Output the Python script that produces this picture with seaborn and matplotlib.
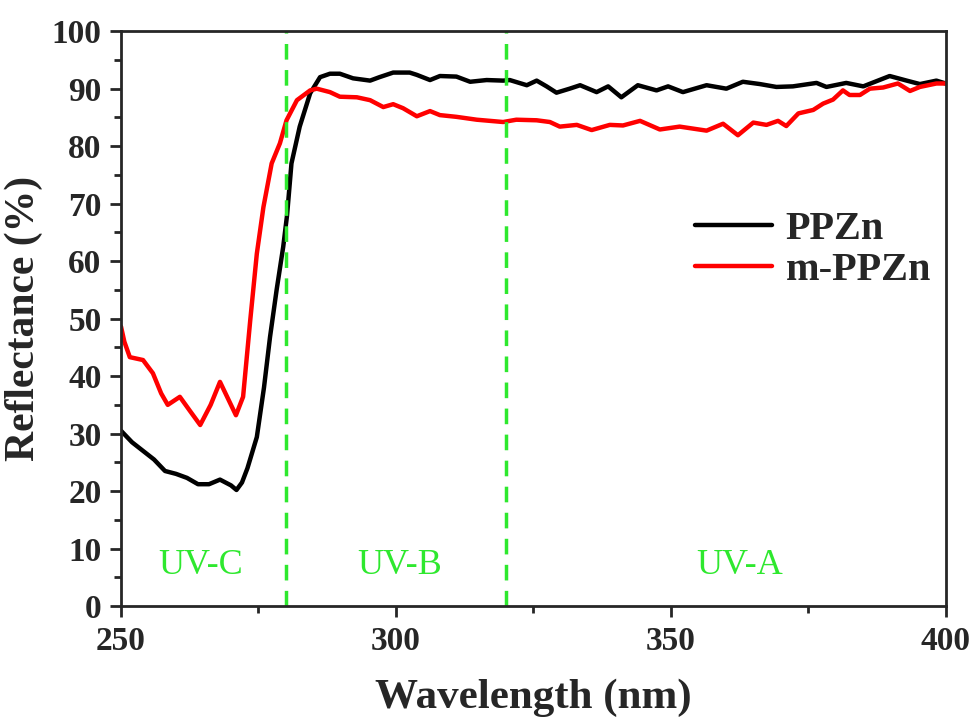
import matplotlib
matplotlib.use("Agg")
import matplotlib.pyplot as plt
from matplotlib.ticker import MultipleLocator
import seaborn as sns
import pandas as pd

# PPZn reflectance spectrum
ppzn_wl = [250, 252, 254, 256, 258, 260, 262, 264, 266, 268, 270, 271, 272, 273,
           274.7, 276, 277.1, 278.3, 279.5, 280.2, 281, 282.5, 284.4, 286.2, 288,
           289.8, 292.2, 295.3, 297, 299.5, 302.5, 303.8, 306.2, 308, 311, 313.5,
           316.5, 319.5, 320.7, 323.8, 325.6, 327.4, 329.2, 331.6, 333.5, 336.5,
           338.6, 341, 344, 347.4, 349.5, 352.2, 356.5, 360.1, 363.1, 366.2, 369.2,
           372.2, 376.5, 378.3, 381.9, 385, 389.8, 392.9, 395.3, 398.3, 400]
ppzn_r = [30.5, 28.5, 27, 25.5, 23.5, 23, 22.3, 21.2, 21.2, 22, 21, 20.2, 21.5, 24,
          29.4, 38, 46.8, 55, 62.5, 68, 77, 83.4, 89.2, 92, 92.6,
          92.6, 91.8, 91.4, 92, 92.8, 92.8, 92.4, 91.5, 92.2, 92.1, 91.2,
          91.5, 91.4, 91.5, 90.6, 91.4, 90.4, 89.3, 90, 90.6, 89.4,
          90.4, 88.5, 90.6, 89.7, 90.4, 89.4, 90.6, 90, 91.2, 90.8, 90.3,
          90.4, 91, 90.3, 91, 90.4, 92.2, 91.4, 90.8, 91.4, 90.9]

# m-PPZn reflectance spectrum
mppzn_wl = [250, 250.6, 251.6, 254, 255.8, 257.3, 258.5, 260.7, 262.5, 264.4, 266.3,
            268, 269.5, 270.9, 272.2, 273.5, 274.7, 275.9, 277.4, 278.9, 280.1, 282,
            284.4, 285.6, 288, 289.8, 292.9, 295.3, 297.7, 299.5, 301.3, 303.8,
            306.2, 308, 311, 314.7, 319.5, 321.9, 325.6, 328, 329.8, 332.9, 335.6,
            338.9, 341.3, 344.4, 348, 351.6, 356.5, 359.5, 362.2, 365, 367.4, 369.5,
            371, 373.2, 375.9, 377.7, 379.5, 381.3, 382.5, 384.4, 386.2, 388.6,
            391.3, 393.5, 395.3, 398.3, 400]
mppzn_r = [48.6, 46, 43.3, 42.8, 40.5, 37, 35, 36.4, 34, 31.5, 35,
           39, 36, 33.2, 36.4, 49.7, 61.3, 69.4, 77, 80.5, 84.5, 88,
           89.7, 90, 89.4, 88.6, 88.5, 88, 86.8, 87.3, 86.6, 85.2,
           86.1, 85.4, 85.1, 84.6, 84.2, 84.6, 84.5, 84.2, 83.4, 83.7, 82.8,
           83.7, 83.6, 84.4, 82.9, 83.4, 82.7, 83.9, 81.9, 84.1, 83.7, 84.4,
           83.5, 85.7, 86.3, 87.4, 88.1, 89.7, 88.9, 88.9, 90, 90.2,
           90.9, 89.6, 90.3, 90.9, 90.9]

band_edges = [280, 320]
band_names = ["UV-C", "UV-B", "UV-A"]
band_label_x = [264.4, 300.7, 362.5]

sns.set_theme(style="ticks")
plt.rcParams["font.family"] = ["Liberation Serif", "DejaVu Serif"]
plt.rcParams["font.weight"] = "bold"

df1 = pd.DataFrame({"wl": ppzn_wl, "R": ppzn_r})
df2 = pd.DataFrame({"wl": mppzn_wl, "R": mppzn_r})

fig = plt.figure(figsize=(9.76, 7.25), dpi=100)
ax = fig.add_axes([0.124, 0.164, 0.845, 0.793])

sns.lineplot(data=df1, x="wl", y="R", ax=ax, color="black", lw=3.2,
             estimator=None, label="PPZn")
sns.lineplot(data=df2, x="wl", y="R", ax=ax, color="#ff0000", lw=3.2,
             estimator=None, label="m-PPZn")

green = "#2ee82e"
for xe in band_edges:
    ax.axvline(xe, color=green, lw=2.5, ls=(0, (4.5, 3)))
for name, xt in zip(band_names, band_label_x):
    ax.text(xt, 7, name, color=green, fontsize=26, fontweight="normal",
            ha="center", va="center")

ax.set_xlim(250, 400)
ax.set_ylim(0, 100)
ax.xaxis.set_major_locator(MultipleLocator(50))
ax.xaxis.set_minor_locator(MultipleLocator(25))
ax.yaxis.set_major_locator(MultipleLocator(10))
ax.yaxis.set_minor_locator(MultipleLocator(5))
ax.tick_params(which="major", direction="out", length=8, width=2,
               labelsize=24, pad=6)
ax.tick_params(which="minor", direction="out", length=5, width=2)
for lab in ax.get_xticklabels() + ax.get_yticklabels():
    lab.set_fontweight("bold")
for sp in ax.spines.values():
    sp.set_linewidth(2)
    sp.set_visible(True)

ax.set_xlabel("Wavelength (nm)", fontsize=31, fontweight="bold", labelpad=16)
ax.set_ylabel("Reflectance (%)", fontsize=30, fontweight="bold", labelpad=6)

ax.legend(loc="center left", bbox_to_anchor=(0.696, 0.62), frameon=False,
          handlelength=1.9, handletextpad=0.35, labelspacing=0.1,
          borderpad=0, borderaxespad=0, prop={"weight": "bold", "size": 29})

fig.savefig("out.png", dpi=100)
